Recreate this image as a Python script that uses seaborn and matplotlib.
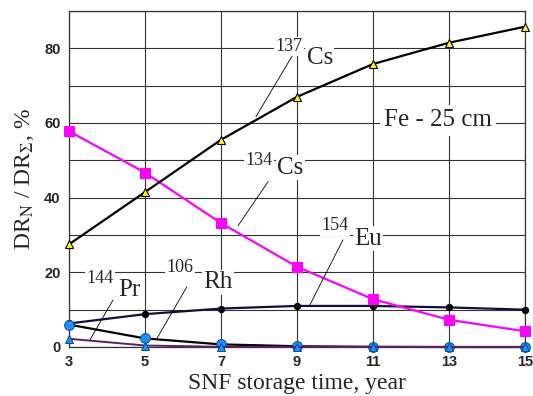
import matplotlib
matplotlib.use("Agg")
import matplotlib.pyplot as plt
import seaborn as sns
import pandas as pd
import numpy as np

years = [3, 5, 7, 9, 11, 13, 15]
cs137 = [27.5, 41.5, 55.5, 67.0, 75.8, 81.5, 85.8]
cs134 = [57.8, 46.7, 33.2, 21.5, 12.8, 7.3, 4.2]
eu154 = [6.3, 8.8, 10.3, 11.0, 11.0, 10.6, 10.0]
rh106 = [6.0, 2.3, 0.7, 0.2, 0.05, 0.0, 0.0]
pr144 = [2.2, 0.4, 0.05, 0.0, 0.0, 0.0, 0.0]

sns.set_style("white")
plt.rcParams["font.family"] = ["Liberation Serif", "DejaVu Serif"]
plt.rcParams["mathtext.fontset"] = "stix"

fig = plt.figure(figsize=(5.33, 3.96), dpi=100)
ax = fig.add_axes([69/533, 1-347/396, (525-69)/533, (347-11)/396])

df = pd.DataFrame({"year": years, "cs137": cs137, "cs134": cs134,
                   "eu154": eu154, "rh106": rh106, "pr144": pr144})

common = dict(ax=ax, clip_on=False)
sns.lineplot(data=df, x="year", y="eu154", color="#101040", lw=1.6,
             marker="o", markersize=4.5, markerfacecolor="black",
             markeredgecolor="black", zorder=4, **common)
sns.lineplot(data=df, x="year", y="pr144", color="#602060", lw=1.4,
             marker="^", markersize=6, markerfacecolor="#1E90FF",
             markeredgecolor="#0050A0", zorder=5, **common)
sns.lineplot(data=df, x="year", y="rh106", color="black", lw=1.6,
             marker="o", markersize=7, markerfacecolor="#1E90FF",
             markeredgecolor="#0050A0", zorder=4, **common)
sns.lineplot(data=df, x="year", y="cs134", color="#FF00FF", lw=1.6,
             marker="s", markersize=6.5, markerfacecolor="#FF00FF",
             markeredgecolor="#FF00FF", zorder=6, **common)
sns.lineplot(data=df, x="year", y="cs137", color="black", lw=1.6,
             marker="^", markersize=6, markerfacecolor="#FFFF00",
             markeredgecolor="black", markeredgewidth=0.8, zorder=6, **common)

ax.set_xlim(3, 15)
ax.set_ylim(0, 90)
ax.set_xticks(years)
ax.set_yticks([0, 20, 40, 60, 80])
ax.set_yticks([10, 30, 50, 70, 90], minor=True)
ax.grid(True, which="both", color="#333333", lw=0.8)
ax.set_axisbelow(True)
for s in ax.spines.values():
    s.set_color("#333333")
    s.set_linewidth(0.9)
ax.tick_params(axis="both", which="both", length=0, pad=6)
for lab in ax.get_xticklabels() + ax.get_yticklabels():
    lab.set_family("Liberation Sans")
    lab.set_fontsize(10.5)
    lab.set_fontweight("bold")

ax.set_xlabel("SNF storage time, year", fontsize=17, labelpad=3)
ax.set_ylabel(r"DR$_{\mathrm{N}}$ / DR$_{\Sigma}$, %", fontsize=17,
              labelpad=6)

box = dict(facecolor="white", edgecolor="none", pad=1)

def label(num, name, xn, yn, xe, ye, leader):
    ax.text(xn, yn, num, fontsize=13, ha="center", va="center", bbox=box, zorder=7)
    ax.text(xe, ye, name, fontsize=18, ha="center", va="center", bbox=box, zorder=7)
    (x0, y0), (x1, y1) = leader
    ax.plot([x0, x1], [y0, y1], color="black", lw=0.6, zorder=7)

label("137", "Cs", 8.79, 80.5, 9.6, 77.3, ((8.87, 77.9), (7.92, 61.7)))
label("134", "Cs", 8.0, 49.9, 8.82, 48.0, ((8.24, 44.3), (7.45, 32.5)))
label("154", "Eu", 10.0, 32.5, 10.87, 29.0, ((10.21, 28.7), (9.34, 11.3)))
label("144", "Pr", 3.82, 18.3, 4.6, 15.3, ((4.16, 12.6), (3.55, 1.9)))
label("106", "Rh", 5.92, 21.2, 6.92, 17.4, ((6.1, 16.1), (5.32, 2.4)))

ax.text(12.71, 60.7, "Fe - 25 cm", fontsize=18, ha="center", va="center",
        bbox=dict(facecolor="white", edgecolor="none", pad=3), zorder=7)

fig.savefig("out.png", dpi=100)
